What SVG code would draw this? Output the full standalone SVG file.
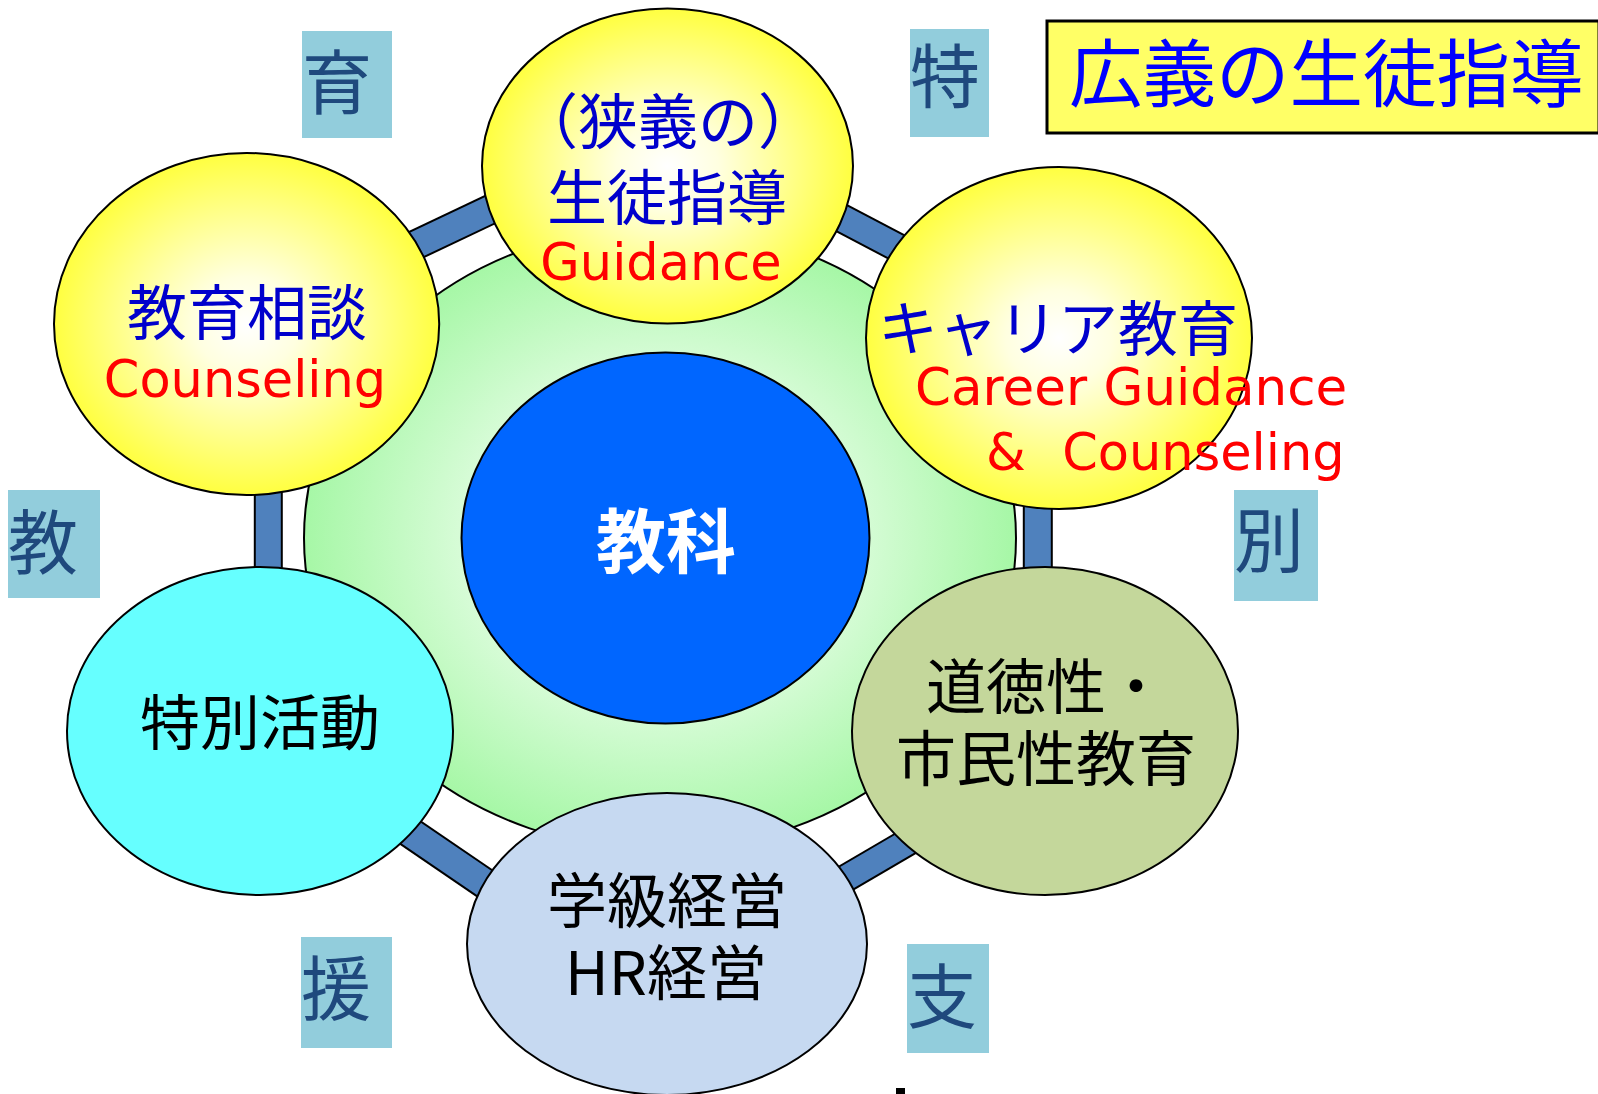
<svg xmlns="http://www.w3.org/2000/svg" width="1598" height="1094" viewBox="0 0 1598 1094">
<defs>
<radialGradient id="gYellow" cx="50%" cy="50%" r="55%">
<stop offset="0" stop-color="#FFFFFF"/>
<stop offset="0.25" stop-color="#FFFFE0"/>
<stop offset="1" stop-color="#FFFF2A"/>
</radialGradient>
<radialGradient id="gGreen" cx="50%" cy="50%" r="50%">
<stop offset="0" stop-color="#FFFFFF"/>
<stop offset="0.55" stop-color="#D8FCD8"/>
<stop offset="1" stop-color="#A6F7A6"/>
</radialGradient>
<style>
.bo{stroke:#000;fill:none;stroke-linecap:butt}
.bi{stroke:#4F81BD;fill:none;stroke-linecap:butt}
.node{stroke:#000;stroke-width:2}
.jp{font-family:"Noto Sans CJK JP","Noto Sans",sans-serif;font-size:60px;text-anchor:middle}
.en{font-family:"DejaVu Sans","Noto Sans",sans-serif;font-size:51px;fill:#FF0000}
.blue{fill:#0000CC}
.blk{fill:#000}
.sq{fill:#92CDDC}
.sqt{font-family:"Noto Sans CJK JP",sans-serif;font-size:70px;fill:#1F497D}
</style>
</defs>
<rect width="1598" height="1094" fill="#FFFFFF"/>

<g id="connectors">
<line class="bo" stroke-width="31" x1="360" y1="271.3" x2="560" y2="176.5"/>
<line class="bi" stroke-width="27" x1="360" y1="271.3" x2="560" y2="176.5"/>
<line class="bo" stroke-width="30" x1="780" y1="185.8" x2="960" y2="280.3"/>
<line class="bi" stroke-width="26" x1="780" y1="185.8" x2="960" y2="280.3"/>
<line class="bo" stroke-width="29" x1="268.3" y1="420" x2="268.3" y2="640"/>
<line class="bi" stroke-width="25" x1="268.3" y1="420" x2="268.3" y2="640"/>
<line class="bo" stroke-width="30" x1="1037.8" y1="420" x2="1037.8" y2="640"/>
<line class="bi" stroke-width="26" x1="1037.8" y1="420" x2="1037.8" y2="640"/>
<line class="bo" stroke-width="32" x1="330" y1="777.7" x2="540" y2="921"/>
<line class="bi" stroke-width="28" x1="330" y1="777.7" x2="540" y2="921"/>
<line class="bo" stroke-width="29" x1="760" y1="928.4" x2="960" y2="811.4"/>
<line class="bi" stroke-width="25" x1="760" y1="928.4" x2="960" y2="811.4"/>
</g>

<g id="ring">
<ellipse cx="660" cy="538" rx="356" ry="312" fill="url(#gGreen)" stroke="#000" stroke-width="2"/>
</g>

<g id="node-guidance">
<ellipse class="node" cx="667.5" cy="166" rx="185.5" ry="157.5" fill="url(#gYellow)"/>
<text class="jp blue" x="668" y="144">（狭義の）</text>
<text class="jp blue" x="667" y="220">生徒指導</text>
<text class="en" x="661" y="280" text-anchor="middle">Guidance</text>
</g>

<g id="node-counseling">
<ellipse class="node" cx="246.6" cy="324" rx="192.6" ry="171" fill="url(#gYellow)"/>
<text class="jp blue" x="247" y="335">教育相談</text>
<text class="en" x="245" y="397" text-anchor="middle">Counseling</text>
</g>

<g id="node-career">
<ellipse class="node" cx="1059" cy="338" rx="193" ry="171" fill="url(#gYellow)"/>
<text class="jp blue" x="1058" y="351">キャリア教育</text>
<text class="en" x="915" y="405" style="font-size:51.5px">Career Guidance</text>
<text class="en" x="986" y="470" style="white-space:pre" word-spacing="2">&amp;  Counseling</text>
</g>

<g id="node-tokkatsu">
<ellipse class="node" cx="260" cy="731" rx="193" ry="164" fill="#66FFFF"/>
<text class="jp blk" x="260" y="745">特別活動</text>
</g>

<g id="node-moral">
<ellipse class="node" cx="1045" cy="731" rx="193" ry="164" fill="#C4D79B"/>
<text class="jp blk" x="1046" y="709">道徳性・</text>
<text class="jp blk" x="1046" y="781">市民性教育</text>
</g>

<g id="node-hr">
<ellipse class="node" cx="667" cy="944" rx="200" ry="151" fill="#C6D9F1"/>
<text class="jp blk" x="667" y="923">学級経営</text>
<text class="jp blk" x="666" y="995">HR経営</text>
</g>

<g id="node-kyoka">
<ellipse class="node" cx="665.5" cy="538" rx="204" ry="185.5" fill="#0066FF"/>
<text class="jp" x="666" y="568" style="font-size:70px;font-weight:bold;fill:#FFFFFF">教科</text>
</g>

<g id="title">
<rect x="1047" y="21" width="552" height="112" fill="#FFFF66" stroke="#000" stroke-width="3"/>
<text x="1069" y="101" style="font-family:'Noto Sans CJK JP',sans-serif;font-size:73.5px;fill:#0000FF">広義の生徒指導</text>
</g>

<g id="label-iku"><rect class="sq" x="302" y="31" width="90" height="107"/><text class="sqt" x="302" y="109">育</text></g>
<g id="label-toku"><rect class="sq" x="910" y="29" width="79" height="108"/><text class="sqt" x="910" y="103">特</text></g>
<g id="label-kyo"><rect class="sq" x="8" y="490" width="92" height="108"/><text class="sqt" x="8" y="569">教</text></g>
<g id="label-betsu"><rect class="sq" x="1234" y="490" width="84" height="111"/><text class="sqt" x="1234" y="567">別</text></g>
<g id="label-en"><rect class="sq" x="301" y="937" width="91" height="111"/><text class="sqt" x="301" y="1015">援</text></g>
<g id="label-shi"><rect class="sq" x="907" y="944" width="82" height="109"/><text class="sqt" x="907" y="1023">支</text></g>

<rect id="mark" x="896" y="1088" width="9" height="6" fill="#000"/>
</svg>
